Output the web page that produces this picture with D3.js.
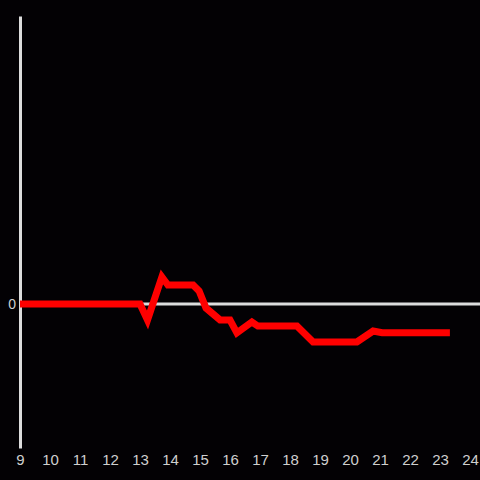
<!DOCTYPE html>
<html>
<head>
<meta charset="utf-8">
<script src="https://cdn.jsdelivr.net/npm/d3@7"></script>
<style>
  html, body { margin: 0; padding: 0; background: #030104; }
  svg { display: block; }
</style>
</head>
<body>
<svg></svg>
<script>
const WIDTH = 480;
const HEIGHT = 480;

// hours on the x axis, value at each point
const hours = [9, 13, 13.25, 13.73, 13.93, 14.77, 14.97, 15.2, 15.67, 16, 16.23, 16.73, 16.93, 18.23, 18.77, 20.23, 20.77, 21.07, 23.33];
const values = [0, 0, -1.11, 1.875, 1.32, 1.32, 0.9, -0.28, -1.11, -1.11, -2.0, -1.25, -1.53, -1.53, -2.64, -2.64, -1.875, -2.0, -2.0];
const xTicks = d3.range(9, 25);
const yTicks = [0];

const points = hours.map((h, i) => ({ h: h, v: values[i] }));

let svg = d3.select('svg')
    .attr('width', WIDTH)
    .attr('height', HEIGHT);

let x = d3.scaleLinear().domain([9, 24]).range([20, 470]);
let y = d3.scaleLinear().domain([-10, 20]).range([448, 16]);

// zero line
svg.append('line')
    .attr('x1', x(9))
    .attr('x2', WIDTH)
    .attr('y1', y(0))
    .attr('y2', y(0))
    .attr('stroke', '#dcdcdc')
    .attr('stroke-width', 3);

// y axis
let yAxis = svg.append('g')
    .attr('transform', `translate(${x(9)},0)`)
    .call(d3.axisLeft(y).tickValues(yTicks).tickSize(0).tickPadding(4));
yAxis.select('.domain').attr('stroke', '#dcdcdc').attr('stroke-width', 3);
yAxis.selectAll('text')
    .attr('fill', '#cfcfcf')
    .style('font-family', 'Liberation Sans, Arial, sans-serif')
    .style('font-size', '14px');

// x tick labels (no axis line)
let xAxis = svg.append('g')
    .attr('transform', `translate(0,${y(-10)})`)
    .call(d3.axisBottom(x).tickValues(xTicks).tickSize(0).tickPadding(6));
xAxis.select('.domain').remove();
xAxis.selectAll('text')
    .attr('fill', '#cfcfcf')
    .style('font-family', 'Liberation Sans, Arial, sans-serif')
    .style('font-size', '15px');

let line = d3.line()
    .x(d => x(d.h))
    .y(d => y(d.v));

svg.append('path')
    .datum(points)
    .attr('d', line)
    .attr('fill', 'none')
    .attr('stroke', '#ff0000')
    .attr('stroke-width', 7);
</script>
</body>
</html>
